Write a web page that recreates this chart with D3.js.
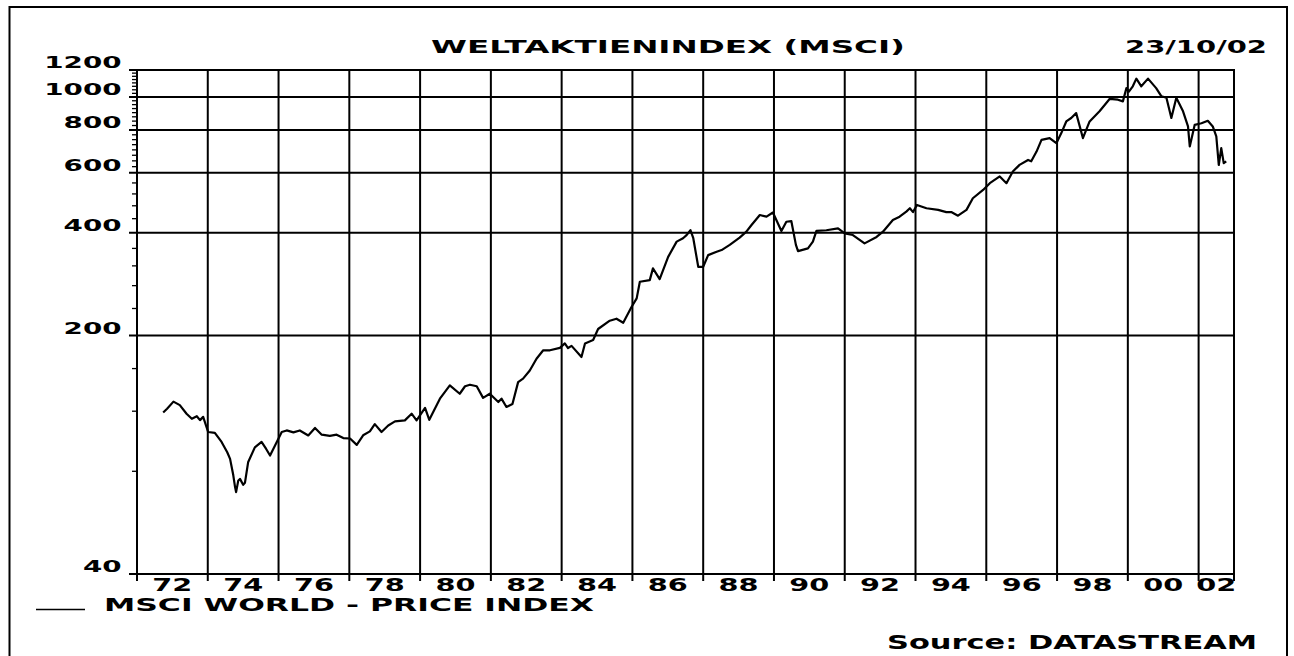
<!DOCTYPE html>
<html>
<head>
<meta charset="utf-8">
<script src="https://cdn.jsdelivr.net/npm/d3@7/dist/d3.min.js"></script>
<style>
  html, body { margin: 0; padding: 0; background: #fff; }
  svg { display: block; }
  text { font-family: "DejaVu Sans", "Liberation Sans", sans-serif; font-weight: bold; fill: #000; }
</style>
</head>
<body>
<svg id="chart" width="1294" height="656"></svg>
<script>
// ---- data ----
const years = [
  1972.74,1972.85,1973.03,1973.21,1973.40,1973.55,1973.69,1973.78,1973.87,1974.01,
  1974.20,1974.39,1974.55,1974.63,1974.72,1974.77,1974.80,1974.86,1974.91,1975.00,
  1975.05,1975.14,1975.33,1975.52,1975.65,1975.76,1975.95,1976.09,1976.23,1976.42,
  1976.60,1976.84,1977.03,1977.22,1977.45,1977.64,1977.83,1978.02,1978.21,1978.39,
  1978.58,1978.72,1978.91,1979.10,1979.29,1979.57,1979.76,1979.90,1980.14,1980.26,
  1980.56,1980.84,1981.12,1981.27,1981.41,1981.60,1981.78,1981.97,1982.21,1982.30,
  1982.44,1982.61,1982.77,1982.91,1983.10,1983.29,1983.48,1983.67,1983.95,1984.09,
  1984.18,1984.28,1984.56,1984.66,1984.89,1985.03,1985.36,1985.55,1985.74,1985.97,
  1986.12,1986.21,1986.49,1986.58,1986.77,1987.01,1987.25,1987.43,1987.53,1987.64,
  1987.72,1987.86,1988.00,1988.14,1988.38,1988.52,1988.75,1989.03,1989.22,1989.36,
  1989.60,1989.79,1989.97,1990.21,1990.35,1990.49,1990.62,1990.68,1990.96,1991.10,
  1991.20,1991.48,1991.81,1992.00,1992.23,1992.56,1992.90,1993.08,1993.36,1993.55,
  1993.74,1993.84,1993.93,1994.04,1994.31,1994.64,1994.87,1995.01,1995.20,1995.44,
  1995.62,1995.91,1996.10,1996.38,1996.57,1996.75,1996.94,1997.18,1997.27,1997.42,
  1997.56,1997.79,1997.98,1998.12,1998.26,1998.40,1998.54,1998.73,1998.92,1999.20,
  1999.49,1999.72,1999.86,1999.96,2000.03,2000.14,2000.24,2000.38,2000.57,2000.80,
  2000.95,2001.09,2001.23,2001.37,2001.56,2001.70,2001.75,2001.89,2002.08,2002.26,
  2002.40,2002.50,2002.57,2002.64,2002.71,2002.78
];
const priceIndex = [
  119,122,128,125,118,114,116,113,115.5,104.3,
  103.7,97.5,91,87,78,72,69.5,75,76,73,
  74,85,94,97.5,93,89,97.5,104.3,105.4,104,
  105.4,101.9,107.2,102.4,101.6,102.4,100.1,99.8,95.6,102,
  104.7,110,104.3,109,112,112.8,118,112.8,122.7,113.2,
  130.6,142.9,135,142,143.5,142,131.3,135,127.7,130.6,
  123.5,126,146,149.5,158,171,181,181,184,189.6,
  183.8,186.5,173,189.6,194,209,221,224,218,242,
  257,287.5,290.6,314.6,292.6,340,376.8,385.6,393.8,407,
  385.6,318,318,344,352,356,368.6,387,403,421,
  451,446,458.6,405,431,433,368.6,353.6,360,376.8,
  405,407,412,398.4,394,372.5,389,403,436,446,
  461.6,472,460,482.6,472,467,460,460,449,467,
  505,534,559,585,559,605,632.6,654,648,692,
  749,758,732,784,848,868,897,758,848,908,
  988,982,971,1062,1037,1075,1132,1075,1132,1062,
  1005,995,868,995,908,820,716,829,838,852,
  820,767,632,708,640,648
];
const yMajorTicks = [40, 200, 400, 600, 800, 1000, 1200];
const yGridValues = [200, 400, 600, 800, 1000];
const yMinorTicks = [80,120,160,240,280,320,360,440,480,520,560,
  625,650,675,700,725,750,775,825,850,875,900,925,950,975,
  1025,1050,1075,1100,1125,1150,1175];
const xGridYears = [1974,1976,1978,1980,1982,1984,1986,1988,1990,1992,1994,1996,1998,2000,2002];
const xLabelYears = [1972,1974,1976,1978,1980,1982,1984,1986,1988,1990,1992,1994,1996,1998,2000,2002];
const xLabelTexts = ["72","74","76","78","80","82","84","86","88","90","92","94","96","98","00","02"];
const titleText = "WELTAKTIENINDEX (MSCI)";
const dateText = "23/10/02";
const seriesName = "MSCI WORLD - PRICE INDEX";
const sourceText = "Source: DATASTREAM";

// ---- layout ----
const L = 137, R = 1234, T = 70, B = 574;
const svg = d3.select("#chart");
const x = d3.scaleLinear().domain([1972, 2003]).range([L, R]);
const y = d3.scaleLog().domain([40, 1200]).range([B, T]);

// outer frame
svg.append("path")
  .attr("d", `M9.5,656 L9.5,7 L1287,7 L1287,656`)
  .attr("fill", "none").attr("stroke", "#000").attr("stroke-width", 2);

// horizontal gridlines + major ticks (extend left of axis)
svg.append("g").selectAll("line").data(yMajorTicks).join("line")
  .attr("x1", L - 8).attr("x2", d => yGridValues.includes(d) ? R : L)
  .attr("y1", d => y(d)).attr("y2", d => y(d))
  .attr("stroke", "#000").attr("stroke-width", 2);

// minor y ticks
svg.append("g").selectAll("line").data(yMinorTicks).join("line")
  .attr("x1", L - 5).attr("x2", L)
  .attr("y1", d => y(d)).attr("y2", d => y(d))
  .attr("stroke", "#000").attr("stroke-width", 1.3);

// vertical gridlines + ticks below axis
svg.append("g").selectAll("line").data(xGridYears).join("line")
  .attr("x1", d => x(d)).attr("x2", d => x(d))
  .attr("y1", T).attr("y2", B + 7)
  .attr("stroke", "#000").attr("stroke-width", 2);

// plot frame
svg.append("rect")
  .attr("x", L).attr("y", T).attr("width", R - L).attr("height", B - T)
  .attr("fill", "none").attr("stroke", "#000").attr("stroke-width", 2);
svg.append("line").attr("x1", L).attr("x2", L).attr("y1", B).attr("y2", B + 7)
  .attr("stroke", "#000").attr("stroke-width", 2);
svg.append("line").attr("x1", R).attr("x2", R).attr("y1", B).attr("y2", B + 7)
  .attr("stroke", "#000").attr("stroke-width", 2);
svg.append("line").attr("x1", L - 8).attr("x2", L).attr("y1", T).attr("y2", T)
  .attr("stroke", "#000").attr("stroke-width", 2);

// y labels
svg.append("g").selectAll("text").data(yMajorTicks).join("text")
  .attr("x", 121.5).attr("y", d => y(d) - 2)
  .attr("text-anchor", "end")
  .attr("font-size", 16.5)
  .attr("textLength", d => String(d).length * 19.3)
  .attr("lengthAdjust", "spacingAndGlyphs")
  .text(d => String(d));

// x labels
svg.append("g").selectAll("text").data(xLabelYears).join("text")
  .attr("x", d => (x(d) + x(Math.min(d + 2, 2003))) / 2)
  .attr("y", 591)
  .attr("text-anchor", "middle")
  .attr("font-size", 17)
  .attr("textLength", 40)
  .attr("lengthAdjust", "spacingAndGlyphs")
  .text((d, i) => xLabelTexts[i]);

// data line
const line = d3.line().x((d, i) => x(years[i])).y(d => y(d));
svg.append("path")
  .datum(priceIndex)
  .attr("d", line)
  .attr("fill", "none").attr("stroke", "#000").attr("stroke-width", 2.2)
  .attr("stroke-linejoin", "round");

// title & date
svg.append("text").attr("x", 431).attr("y", 52.5).attr("font-size", 18.5)
  .attr("textLength", 474).attr("lengthAdjust", "spacingAndGlyphs").text(titleText);
svg.append("text").attr("x", 1125).attr("y", 52.5).attr("font-size", 18.5)
  .attr("textLength", 142).attr("lengthAdjust", "spacingAndGlyphs").text(dateText);

// legend
svg.append("line").attr("x1", 36).attr("x2", 85).attr("y1", 609.5).attr("y2", 609.5)
  .attr("stroke", "#000").attr("stroke-width", 1.6);
svg.append("text").attr("x", 104).attr("y", 611).attr("font-size", 17)
  .attr("textLength", 490).attr("lengthAdjust", "spacingAndGlyphs").text(seriesName);

// source
svg.append("text").attr("x", 887).attr("y", 649).attr("font-size", 20)
  .attr("textLength", 370).attr("lengthAdjust", "spacingAndGlyphs").text(sourceText);
</script>
</body>
</html>
